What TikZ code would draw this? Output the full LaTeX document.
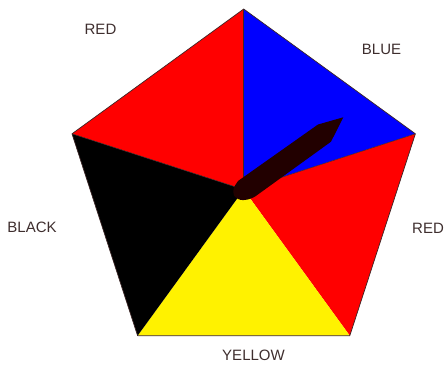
\documentclass[tikz,border=0pt]{standalone}
\usepackage{fontspec}
\setmainfont{Liberation Sans}
\usetikzlibrary{calc}
\definecolor{edge}{HTML}{3C2626}
\definecolor{labelink}{HTML}{3E2E2E}
\definecolor{needle}{HTML}{220000}
\tikzset{
  sector/.style={draw=edge,line width=.7pt,line join=round},
  lbl/.style={text=labelink,font=\fontsize{15}{16}\selectfont,inner sep=0pt},
  pointer/.style={fill=needle,draw=none}}

\begin{document}
\begin{tikzpicture}[x=1pt,y=-1pt]
\useasboundingbox(0,0)rectangle(445,365);
\coordinate(c)at(243.7,189.6);
\coordinate(pt)at(243.7,9);\coordinate(pr)at(415.4,133.8);
\coordinate(pbr)at(349.8,335.7);\coordinate(pbl)at(137.6,335.7);
\coordinate(pl)at(72,133.8);
\fill[red](c)--(pl)--(pt)--cycle;
\fill[blue](c)--(pt)--(pr)--cycle;
\fill[red](c)--(pr)--(pbr)--cycle;
\fill[yellow](c)--(pbr)--(pbl)--cycle;
\fill[black](c)--(pbl)--(pl)--cycle;
\draw[sector](pt)--(pr)--(pbr)--(pbl)--(pl)--cycle;
\draw[edge,line width=.5pt](pl)--(c)--(pr);
\draw[edge,line width=.5pt](pt)--(c);
% needle
\fill[pointer](343.3,117.3)--(318,124.5)--(238,181)
  [rounded corners=6pt]--(231.5,191)--(237,200.5)--(251,199.5)[sharp corners]
  --(331,141.7)--cycle;
\node[lbl](redtop)at(100.5,29){RED};
\node[lbl](blue)at(381.5,49){BLUE};
\node[lbl,anchor=west](redright)at(412,228.5){RED};
\node[lbl](black)at(32,227.5){BLACK};
\node[lbl](yellow)at(253.5,355.5){YELLOW};
\end{tikzpicture}
\end{document}
